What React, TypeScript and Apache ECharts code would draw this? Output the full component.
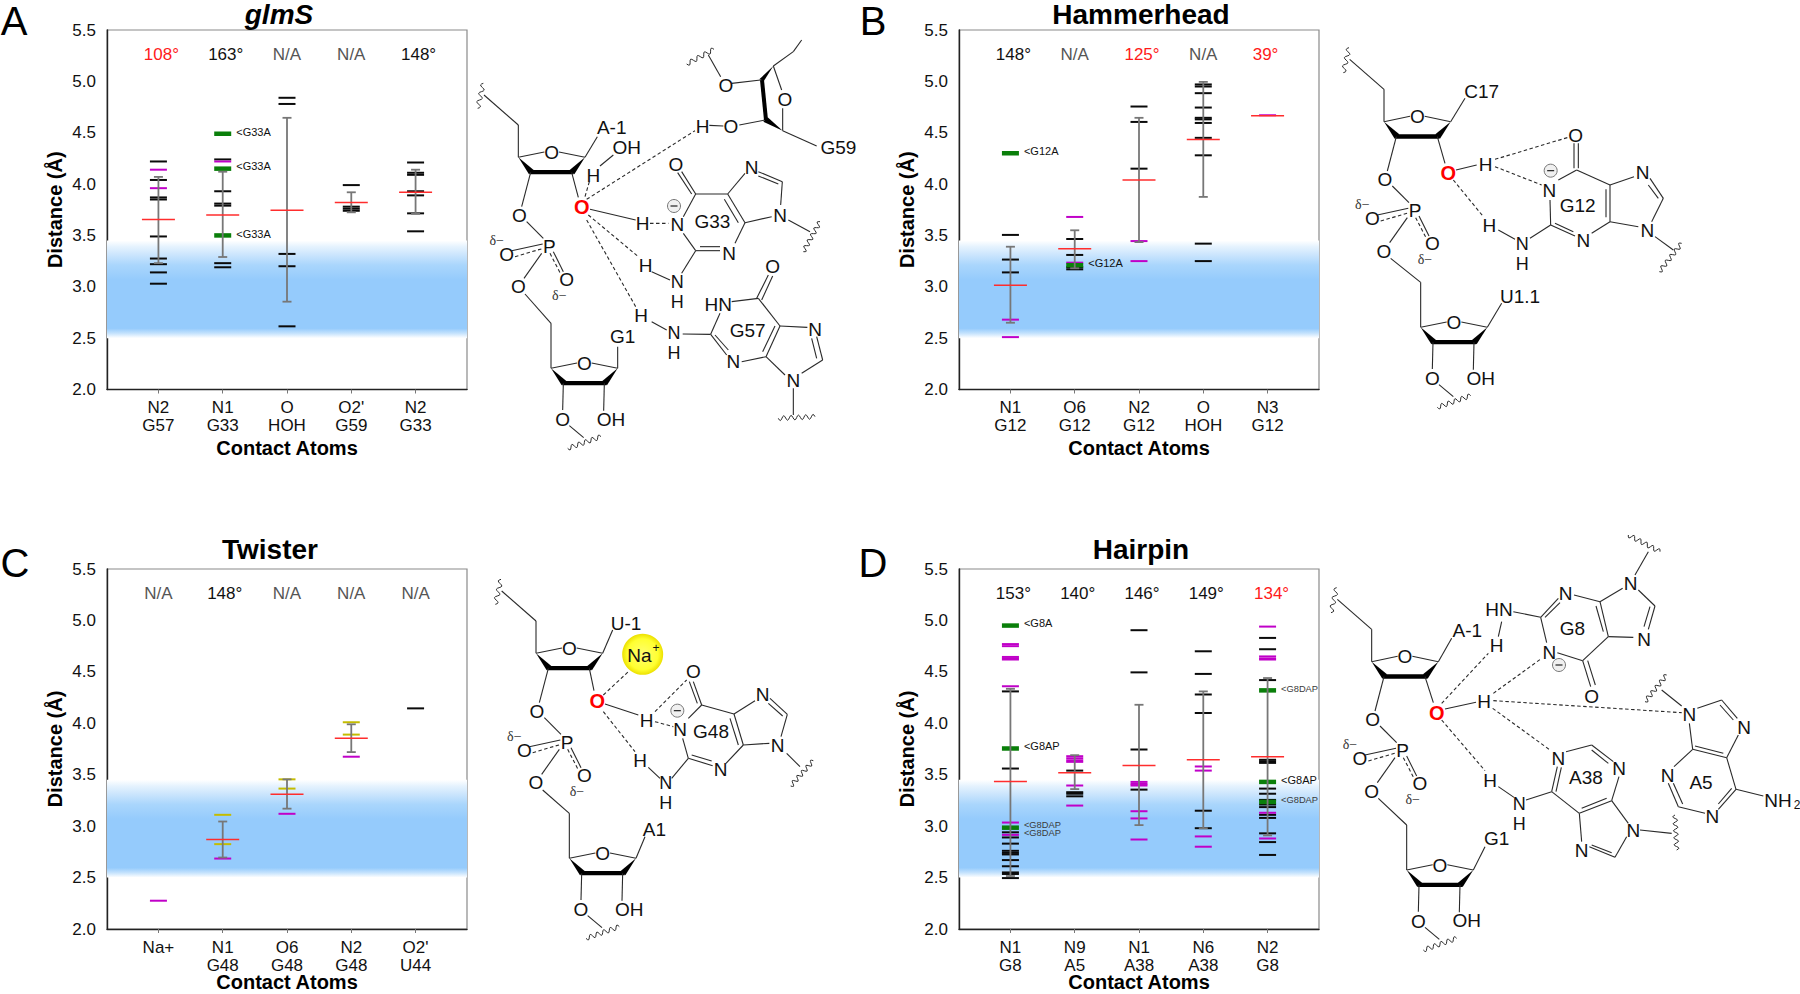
import React, { useEffect, useRef } from "react";
import * as echarts from "echarts";

// ---------- data ----------
const glmsCategories = ["N2\nG57", "N1\nG33", "O\nHOH", "O2'\nG59", "N2\nG33"];
const glmsAngles = ["108°", "163°", "N/A", "N/A", "148°"];
const glmsBlack = [
  [4.22, 4.04, 3.87, 3.85, 3.49, 3.275, 3.22, 3.14, 3.03],
  [4.24, 3.93, 3.81, 3.79, 3.23, 3.19],
  [4.84, 4.78, 3.32, 3.2, 2.615],
  [3.99, 3.78, 3.76, 3.74],
  [4.21, 4.11, 4.09, 3.93, 3.89, 3.715, 3.54],
];
const glmsMagenta = [[4.14, 3.96], [4.22], [], [], []];
const glmsGreen = [[], [4.49, 4.15, 3.5], [], [], []];
const glmsMeans = [3.655, 3.7, 3.745, 3.82, 3.92];
const glmsErrTop = [4.07, 4.12, 4.645, 3.92, 4.14];
const glmsErrBottom = [3.23, 3.29, 2.855, 3.725, 3.71];
const glmsNotes = [
  { cat: 2, y: 4.507, text: "<G33A" },
  { cat: 2, y: 4.176, text: "<G33A" },
  { cat: 2, y: 3.514, text: "<G33A" },
];

const hammerCategories = ["N1\nG12", "O6\nG12", "N2\nG12", "O\nHOH", "N3\nG12"];
const hammerAngles = ["148°", "N/A", "125°", "N/A", "39°"];
const hammerBlack = [
  [3.505, 3.265, 3.14],
  [3.465, 3.31, 3.19, 3.17],
  [4.755, 4.605, 4.15],
  [4.97, 4.95, 4.885, 4.745, 4.645, 4.63, 4.595, 4.45, 4.28, 3.42, 3.25],
  [],
];
const hammerMagenta = [[2.68, 2.51], [3.68, 3.235], [3.445, 3.25], [], [4.67]];
const hammerGreen = [[4.3], [3.21], [], [], []];
const hammerMeans = [3.015, 3.37, 4.04, 4.435, 4.665];
const hammerErrTop = [3.39, 3.55, 4.645, 4.995, null];
const hammerErrBottom = [2.65, 3.18, 3.435, 3.875, null];
const hammerNotes = [
  { cat: 1, y: 4.32, text: "<G12A" },
  { cat: 2, y: 3.23, text: "<G12A" },
];

const twisterCategories = ["Na+", "N1\nG48", "O6\nG48", "N2\nG48", "O2'\nU44"];
const twisterAngles = ["N/A", "148°", "N/A", "N/A", "N/A"];
const twisterBlack = [[], [], [], [], [4.145]];
const twisterMagenta = [[2.275], [2.685], [3.12], [3.675], []];
const twisterOlive = [[], [3.11, 2.825], [3.455, 3.365], [4.01, 3.89], []];
const twisterMeans = [null, 2.87, 3.31, 3.855, null];
const twisterErrTop = [null, 3.045, 3.455, 3.99, null];
const twisterErrBottom = [null, 2.695, 3.17, 3.72, null];

const hairpinCategories = ["N1\nG8", "N9\nA5", "N1\nA38", "N6\nA38", "N2\nG8"];
const hairpinAngles = ["153°", "140°", "146°", "149°", "134°"];
const hairpinBlack = [
  [4.31, 3.56, 2.94, 2.89, 2.83, 2.76, 2.74, 2.725, 2.67, 2.61, 2.55, 2.535, 2.495],
  [3.54, 3.33, 3.315, 3.29],
  [4.905, 4.495, 3.745, 3.355],
  [4.7, 4.48, 4.28, 4.1, 3.15, 2.98],
  [4.83, 4.72, 4.42, 3.645, 3.63, 3.615, 3.365, 3.315, 3.255, 3.21, 3.185, 3.11, 3.08, 2.93, 2.845, 2.72],
];
const hairpinMagenta = [
  [4.77, 4.75, 4.645, 4.63, 4.62, 4.36, 3.035, 2.915],
  [3.68, 3.66, 3.64, 3.625, 3.395, 3.2],
  [3.43, 3.41, 3.395, 3.145, 3.075, 2.87],
  [3.58, 3.54, 2.9, 2.8],
  [4.94, 4.65, 4.63, 4.62, 3.13, 2.88],
];
const hairpinGreen = [[4.95, 3.755, 2.985], [], [], [], [4.32, 3.43, 3.235]];
const hairpinMeans = [3.435, 3.52, 3.59, 3.645, 3.675];
const hairpinErrTop = [4.335, 3.69, 4.18, 4.31, 4.44];
const hairpinErrBottom = [2.515, 3.36, 3.01, 2.98, 2.91];
const hairpinNotes = [
  { cat: 1, y: 4.975, text: "<G8A" },
  { cat: 1, y: 3.78, text: "<G8AP" },
  { cat: 1, y: 3.01, text: "<G8DAP" },
  { cat: 1, y: 2.93, text: "<G8DAP" },
  { cat: 5, y: 4.33, text: "<G8DAP" },
  { cat: 5, y: 3.45, text: "<G8AP" },
  { cat: 5, y: 3.254, text: "<G8DAP" },
];

const yTicks = { min: 2, max: 5.5, interval: 0.5 };
const bandTop = 3.45;
const bandBottom = 2.5;
const angleLevel = 5.266;

// ---------- layout / style ----------
const FONT = '"Liberation Sans", Arial, sans-serif';
const SERIF = '"Liberation Serif", "DejaVu Serif", serif';
const XMIN = 0.2;
const XMAX = 5.8;
const CATS = [1, 2, 3, 4, 5];
const BLACK = "#0a0a0a";
const MAGENTA = "#C000C8";
const GREEN = "#0A7F0A";
const OLIVE = "#C4BC00";
const RED = "#FF2D2D";
const ERR = "#777777";
const INK = "#2a2a2a";

const flatten = (rows: number[][]) =>
  rows.flatMap((vals, c) => vals.map((v) => [c + 1, v]));

type Panel = {
  left: number; top: number; width: number; height: number; nameGap: number;
  categories: string[]; angles: string[]; angleColors: string[]; angleOffsets: number[];
  black: number[][]; magenta: number[][]; green: number[][]; olive: number[][];
  means: (number | null)[]; errTop: (number | null)[]; errBottom: (number | null)[];
  notes: { cat: number; y: number; text: string }[];
};

const BK = "#111111";
const NA = "#555555";
const panels: Panel[] = [
  {
    left: 107, top: 30, width: 360, height: 359.5, nameGap: 48,
    categories: glmsCategories, angles: glmsAngles,
    angleColors: [ "#ff1a1a", BK, NA, NA, BK ], angleOffsets: [3, 3, 0, 0, 3],
    black: glmsBlack, magenta: glmsMagenta, green: glmsGreen, olive: [],
    means: glmsMeans, errTop: glmsErrTop, errBottom: glmsErrBottom, notes: glmsNotes,
  },
  {
    left: 959, top: 30, width: 360, height: 359.5, nameGap: 48,
    categories: hammerCategories, angles: hammerAngles,
    angleColors: [BK, NA, "#ff1a1a", NA, "#ff1a1a"], angleOffsets: [3, 0, 3, 0, -2],
    black: hammerBlack, magenta: hammerMagenta, green: hammerGreen, olive: [],
    means: hammerMeans, errTop: hammerErrTop, errBottom: hammerErrBottom, notes: hammerNotes,
  },
  {
    left: 107, top: 569, width: 360, height: 360, nameGap: 43,
    categories: twisterCategories, angles: twisterAngles,
    angleColors: [NA, BK, NA, NA, NA], angleOffsets: [0, 2, 0, 0, 0],
    black: twisterBlack, magenta: twisterMagenta, green: [], olive: twisterOlive,
    means: twisterMeans, errTop: twisterErrTop, errBottom: twisterErrBottom, notes: [],
  },
  {
    left: 959, top: 569, width: 360, height: 360, nameGap: 43,
    categories: hairpinCategories, angles: hairpinAngles,
    angleColors: [BK, BK, BK, BK, "#ff1a1a"], angleOffsets: [3, 3, 3, 3, 4],
    black: hairpinBlack, magenta: hairpinMagenta, green: hairpinGreen, olive: [],
    means: hairpinMeans, errTop: hairpinErrTop, errBottom: hairpinErrBottom, notes: hairpinNotes,
  },
];

function dashSeries(i: number, rows: number[][], color: string, w: number, h: number, z: number) {
  return {
    type: "scatter", xAxisIndex: i, yAxisIndex: i, symbol: "rect", symbolSize: [w, h],
    itemStyle: { color, opacity: 1 }, data: flatten(rows), z, silent: true,
  };
}

function panelSeries(p: Panel, i: number): any[] {
  const band = new echarts.graphic.LinearGradient(0, 0, 0, 1, [
    { offset: 0, color: "#ffffff" },
    { offset: 0.06, color: "#e6f3fe" },
    { offset: 0.14, color: "#cde6fd" },
    { offset: 0.25, color: "#aad6fc" },
    { offset: 0.4, color: "#95cbfc" },
    { offset: 0.9, color: "#95cbfc" },
    { offset: 0.95, color: "#c4e2fd" },
    { offset: 1, color: "#ffffff" },
  ]);
  const errData = CATS.map((c, k) => [c, p.errTop[k], p.errBottom[k]]).filter((d) => d[1] != null);
  const meanData = CATS.map((c, k) => [c, p.means[k]]).filter((d) => d[1] != null);
  return [
    {
      type: "custom", xAxisIndex: i, yAxisIndex: i, silent: true, z: 1,
      data: [[XMIN, bandTop, XMAX, bandBottom]],
      encode: { x: [0, 2], y: [1, 3] },
      renderItem: (_: any, api: any) => {
        const a = api.coord([api.value(0), api.value(1)]);
        const b = api.coord([api.value(2), api.value(3)]);
        return { type: "rect", shape: { x: a[0], y: a[1], width: b[0] - a[0], height: b[1] - a[1] }, style: { fill: band } };
      },
    },
    dashSeries(i, p.black, BLACK, 17, 2, 3),
    dashSeries(i, p.magenta, MAGENTA, 17, 2, 4),
    dashSeries(i, p.olive, OLIVE, 17, 2, 4),
    dashSeries(i, p.green, GREEN, 17, 4.5, 4),
    {
      type: "custom", xAxisIndex: i, yAxisIndex: i, silent: true, z: 5,
      data: errData,
      encode: { x: 0, y: [1, 2] },
      renderItem: (_: any, api: any) => {
        const t = api.coord([api.value(0), api.value(1)]);
        const b = api.coord([api.value(0), api.value(2)]);
        const st = { stroke: ERR, lineWidth: 1.8, fill: "none" };
        return {
          type: "group",
          children: [
            { type: "line", shape: { x1: t[0], y1: t[1], x2: b[0], y2: b[1] }, style: st },
            { type: "line", shape: { x1: t[0] - 4.5, y1: t[1], x2: t[0] + 4.5, y2: t[1] }, style: st },
            { type: "line", shape: { x1: b[0] - 4.5, y1: b[1], x2: b[0] + 4.5, y2: b[1] }, style: st },
          ],
        };
      },
    },
    {
      type: "scatter", xAxisIndex: i, yAxisIndex: i, symbol: "rect", symbolSize: [33, 1.5],
      itemStyle: { color: RED, opacity: 1 }, data: meanData, z: 6, silent: true,
    },
    {
      type: "custom", xAxisIndex: i, yAxisIndex: i, silent: true, z: 7,
      data: CATS.map((c) => [c, angleLevel]),
      encode: { x: 0, y: 1 },
      renderItem: (params: any, api: any) => {
        const k = params.dataIndex;
        const c = api.coord([api.value(0), api.value(1)]);
        return {
          type: "text", x: c[0] + p.angleOffsets[k], y: c[1],
          style: { text: p.angles[k], fill: p.angleColors[k], font: `17px ${FONT}`, textAlign: "center", textVerticalAlign: "middle", align: "center", verticalAlign: "middle" },
        };
      },
    },
    {
      type: "custom", xAxisIndex: i, yAxisIndex: i, silent: true, z: 7,
      data: p.notes.map((n) => [n.cat, n.y]),
      encode: { x: 0, y: 1 },
      renderItem: (params: any, api: any) => {
        const n = p.notes[params.dataIndex];
        const c = api.coord([api.value(0), api.value(1)]);
        const dap = n.text.includes("DAP");
        return {
          type: "text", x: c[0] + 13.5, y: c[1],
          style: { text: n.text, fill: dap ? "#3a3a3a" : "#111", font: `${dap ? 9.3 : 11}px ${FONT}`, textAlign: "left", textVerticalAlign: "middle", align: "left", verticalAlign: "middle" },
        };
      },
    },
  ];
}

// ---------- chemistry drawings (decoration; coordinates are drawing positions) ----------
type L = number[];
function draw(ox: number, oy: number, d: { lines?: L[]; dashed?: L[]; texts?: any[]; polys?: number[][][]; waves?: L[]; thick?: L[]; minus?: L[] }) {
  const px = (x: number) => ox + x / 3;
  const py = (y: number) => oy + y / 3;
  const out: any[] = [];
  (d.polys || []).forEach((pts) => out.push({ type: "polygon", shape: { points: pts.map((q) => [px(q[0]), py(q[1])]) }, style: { fill: "#000" }, silent: true }));
  (d.lines || []).forEach((l) => out.push({ type: "line", shape: { x1: px(l[0]), y1: py(l[1]), x2: px(l[2]), y2: py(l[3]) }, style: { stroke: INK, lineWidth: 1.1, fill: "none" }, silent: true }));
  (d.thick || []).forEach((l) => out.push({ type: "line", shape: { x1: px(l[0]), y1: py(l[1]), x2: px(l[2]), y2: py(l[3]) }, style: { stroke: "#000", lineWidth: 4, fill: "none" }, silent: true }));
  (d.dashed || []).forEach((l) => out.push({ type: "line", shape: { x1: px(l[0]), y1: py(l[1]), x2: px(l[2]), y2: py(l[3]) }, style: { stroke: INK, lineWidth: 1.1, lineDash: [3.5, 2.5], fill: "none" }, silent: true }));
  (d.waves || []).forEach((w) => {
    const [x1, y1, x2, y2] = w;
    const n = Math.max(2, Math.round(Math.hypot(x2 - x1, y2 - y1) / 22));
    const len = Math.hypot(x2 - x1, y2 - y1);
    const nx = -(y2 - y1) / len;
    const ny = (x2 - x1) / len;
    const pts: number[][] = [];
    for (let k = 0; k <= n * 8; k++) {
      const t = k / (n * 8);
      const a = Math.sin(t * n * Math.PI * 2) * 7;
      pts.push([px(x1 + (x2 - x1) * t + nx * a), py(y1 + (y2 - y1) * t + ny * a)]);
    }
    out.push({ type: "polyline", shape: { points: pts }, style: { stroke: INK, lineWidth: 1, fill: "none" }, silent: true });
  });
  (d.minus || []).forEach((m) => {
    out.push({ type: "circle", shape: { cx: px(m[0]), cy: py(m[1]), r: 6.5 }, style: { fill: "#f0f0f0", stroke: "#777", lineWidth: 1 }, silent: true });
    out.push({ type: "line", shape: { x1: px(m[0]) - 3.5, y1: py(m[1]), x2: px(m[0]) + 3.5, y2: py(m[1]) }, style: { stroke: "#222", lineWidth: 1.2 }, silent: true });
  });
  (d.texts || []).forEach((t) => {
    const stacked = String(t[0]).includes("\n");
    const size = t[3] || (stacked ? 18 : 19);
    const family = String(t[0]).startsWith("δ") ? SERIF : FONT;
    const fontStr = t[5] ? `${t[5]} ${size}px ${family}` : `${size}px ${family}`;
    out.push({
      type: "text", x: px(t[1]), y: py(t[2]), silent: true, z: 10,
      style: { text: t[0], fill: t[4] || "#111", font: fontStr, lineHeight: stacked ? 20 : undefined, textAlign: "center", textVerticalAlign: "middle", align: "center", verticalAlign: "middle" },
    });
  });
  return out;
}

function backbone(ox: number, oy: number, cfg: { u: number[]; l: number[]; red: number[]; top: { t: string; p: number[]; e: number[] }; bottom: { t: string; p: number[]; e: number[] } }) {
  const [ux, uy] = cfg.u;
  const [lx, ly] = cfg.l;
  const [rx, ry] = cfg.red;
  const A = (a: number[]) => [a[0] + ux, a[1] + uy, a[2] + ux, a[3] + uy];
  const B = (a: number[]) => [a[0] + lx, a[1] + ly, a[2] + lx, a[3] + ly];
  const sugarPolys = (x: number, y: number) => [
    [[x, y], [x + 32, y + 51], [x + 46, y + 38]],
    [[x + 34, y + 38], [x + 166, y + 38], [x + 166, y + 51], [x + 34, y + 51]],
    [[x + 200, y], [x + 154, y + 38], [x + 168, y + 51]],
  ];
  return draw(ox, oy, {
    polys: [...sugarPolys(ux, uy), ...sugarPolys(lx, ly)],
    lines: [
      A([0, 0, 0, -97]), A([0, -97, -103, -187]),
      A([0, 0, 78, -16]), A([122, -16, 200, 0]),
      A([37, 45, 10, 148]),
      [ux + 160, uy + 45, rx - 10, ry - 30],
      A([25, 193, 75, 243]),
      A([-20, 280, 73, 260]), A([105, 283, 135, 343]), A([70, 288, 17, 363]),
      [ux + 20, uy + 410, lx, ly - 135], [lx, ly - 135, lx, ly],
      B([0, 0, 78, -16]), B([122, -16, 200, 0]),
      B([37, 45, 35, 125]), B([160, 45, 158, 127]),
      B([55, 172, 98, 208]),
      [ux + 200, uy, cfg.top.e[0], cfg.top.e[1]],
      [lx + 200, ly, cfg.bottom.e[0], cfg.bottom.e[1]],
    ],
    dashed: [A([-10, 298, 75, 273]), A([95, 288, 125, 346])],
    waves: [A([-122, -147, -105, -222]), B([50, 240, 150, 205])],
    texts: [
      ["O", ux + 100, uy - 15],
      ["O", ux + 3, uy + 173],
      ["P", ux + 93, uy + 266],
      ["O", ux - 35, uy + 290],
      ["O", ux + 145, uy + 366],
      ["O", ux, uy + 388],
      ["δ−", ux - 65, uy + 248, 14, "#333"],
      ["δ−", ux + 123, uy + 413, 14, "#333"],
      ["O", lx + 100, ly - 15],
      ["O", lx + 35, ly + 153],
      ["OH", lx + 180, ly + 152],
      [cfg.top.t, cfg.top.p[0], cfg.top.p[1]],
      [cfg.bottom.t, cfg.bottom.p[0], cfg.bottom.p[1]],
      ["O", rx, ry, 20, "#ff0000", "bold"],
    ],
  });
}

const drawings = (): any[] => {
  const out: any[] = [];
  // panel A
  out.push(...backbone(470, 40, {
    u: [145, 352], l: [243, 985], red: [335, 502],
    top: { t: "A-1", p: [425, 262], e: [382, 290] },
    bottom: { t: "G1", p: [458, 890], e: [443, 920] },
  }));
  out.push(...draw(470, 40, {
    polys: [[[910, 78], [868, 118], [882, 122]], [[938, 272], [880, 245], [893, 232]]],
    thick: [[876, 120, 888, 240]],
    waves: [[650, 72, 732, 28], [1000, 635, 1050, 545], [925, 1135, 1035, 1130]],
    lines: [
      [995, 0, 970, 35], [970, 35, 910, 78], [715, 45, 752, 110], [785, 130, 872, 120],
      [910, 78, 935, 150], [938, 205, 938, 272], [885, 240, 808, 255], [718, 256, 760, 258], [938, 272, 1040, 318],
      [390, 378, 430, 345],
      [360, 508, 497, 540],
      [677, 462, 640, 530], [677, 462, 773, 462], [773, 462, 825, 548], [763, 478, 805, 548], [825, 548, 795, 610],
      [750, 632, 677, 632], [750, 620, 690, 620], [677, 632, 640, 580], [677, 462, 635, 395], [665, 462, 623, 398],
      [773, 462, 825, 400], [865, 395, 937, 425], [865, 408, 925, 432], [937, 425, 932, 495], [905, 530, 825, 548],
      [955, 540, 1020, 575], [677, 632, 635, 700], [545, 695, 600, 720],
      [860, 775, 895, 705], [875, 780, 908, 708], [785, 785, 865, 775], [865, 775, 930, 858], [930, 858, 888, 950],
      [915, 858, 878, 935], [930, 858, 1012, 862], [1040, 890, 1058, 960], [1025, 895, 1040, 955], [1058, 960, 995, 1000],
      [945, 1005, 888, 950], [888, 950, 815, 965], [770, 945, 722, 883], [775, 930, 735, 885], [722, 883, 750, 820],
      [722, 883, 638, 882], [545, 845, 590, 870], [970, 1045, 970, 1125],
    ],
    dashed: [[358, 425, 345, 470], [350, 478, 675, 272], [540, 550, 595, 550], [355, 525, 505, 650], [350, 540, 497, 800]],
    minus: [[612, 498]],
    texts: [
      ["OH", 470, 323], ["H", 370, 405], ["G59", 1105, 323], ["O", 768, 135], ["O", 945, 178], ["H", 698, 258], ["O", 783, 260],
      ["O", 618, 373], ["N", 845, 383], ["N", 930, 527], ["H", 518, 550], ["N", 622, 553], ["G33", 727, 545], ["N", 777, 640],
      ["H", 527, 677], ["N\nH", 622, 757], ["O", 908, 680], ["HN", 745, 792], ["N", 1035, 867], ["G57", 833, 870],
      ["N", 790, 965], ["H", 513, 825], ["N\nH", 612, 908], ["N", 970, 1022],
    ],
  }));
  // panel B
  out.push(...backbone(1320, 30, {
    u: [192, 275], l: [302, 892], red: [385, 430],
    top: { t: "C17", p: [485, 183], e: [435, 205] },
    bottom: { t: "U1.1", p: [600, 800], e: [545, 820] },
  }));
  out.push(...draw(1320, 30, {
    lines: [
      [408, 420, 470, 405], [535, 600, 585, 628], [762, 340, 762, 415], [775, 340, 775, 415],
      [715, 450, 770, 420], [770, 420, 870, 465], [870, 465, 870, 575], [858, 478, 858, 562], [870, 575, 815, 610],
      [765, 618, 692, 585], [760, 605, 705, 580], [692, 585, 690, 510], [692, 585, 630, 625], [870, 465, 942, 440],
      [990, 445, 1030, 505], [985, 465, 1015, 505], [1030, 505, 995, 575], [955, 590, 870, 575], [1005, 620, 1060, 660],
    ],
    dashed: [[525, 388, 745, 322], [525, 410, 665, 465], [400, 450, 490, 560]],
    waves: [[1018, 725, 1085, 640]],
    minus: [[692, 422]],
    texts: [
      ["H", 497, 403], ["H", 508, 587], ["N\nH", 607, 671], ["O", 767, 315], ["N", 688, 480], ["G12", 773, 527],
      ["N", 968, 428], ["N", 982, 600], ["N", 790, 632],
    ],
  }));
  // panel C
  out.push({
    type: "circle", shape: { cx: 480 + 488 / 3, cy: 570 + 253 / 3, r: 20.5 }, silent: true,
    style: { fill: new echarts.graphic.RadialGradient(0.5, 0.5, 0.5, [{ offset: 0, color: "#ffff70" }, { offset: 0.75, color: "#ffff30" }, { offset: 1, color: "#ece000" }]) },
  });
  out.push(...backbone(480, 570, {
    u: [168, 250], l: [268, 865], red: [352, 392],
    top: { t: "U-1", p: [438, 160], e: [398, 180] },
    bottom: { t: "A1", p: [523, 778], e: [495, 800] },
  }));
  out.push(...draw(480, 570, {
    lines: [
      [375, 402, 475, 435], [505, 592, 540, 625], [625, 445, 665, 405], [665, 405, 640, 335], [652, 400, 628, 335],
      [665, 405, 762, 432], [762, 432, 790, 525], [750, 445, 775, 525], [790, 525, 738, 580], [698, 587, 625, 565],
      [695, 573, 635, 555], [625, 565, 608, 505], [625, 565, 575, 625], [762, 432, 825, 392], [870, 385, 922, 433],
      [865, 400, 908, 438], [922, 433, 903, 500], [868, 520, 790, 525], [920, 550, 960, 590],
    ],
    dashed: [[370, 375, 445, 305], [525, 425, 620, 330], [525, 455, 580, 470], [370, 425, 465, 545]],
    waves: [[932, 648, 1000, 572]],
    minus: [[592, 422]],
    texts: [
      ["Na", 478, 255], ["+", 528, 235, 12], ["H", 500, 450], ["H", 480, 572], ["N\nH", 557, 668], ["O", 640, 305],
      ["N", 600, 478], ["G48", 693, 485], ["N", 848, 373], ["N", 893, 525], ["N", 722, 597],
    ],
  }));
  // panel D
  out.push(...backbone(1320, 530, {
    u: [155, 395], l: [260, 1020], red: [350, 548],
    top: { t: "A-1", p: [442, 300], e: [395, 325] },
    bottom: { t: "G1", p: [530, 925], e: [495, 950] },
  }));
  out.push(...draw(1320, 530, {
    lines: [
      [375, 537, 468, 517], [545, 275, 535, 320], [535, 770, 582, 802],
      [580, 245, 662, 262], [662, 262, 715, 205], [675, 262, 720, 218], [662, 262, 680, 338], [712, 368, 788, 392],
      [788, 392, 865, 320], [865, 320, 840, 215], [850, 305, 828, 228], [840, 215, 762, 195], [840, 215, 908, 175],
      [955, 180, 1005, 228], [1005, 228, 985, 298], [990, 230, 972, 290], [940, 322, 865, 320], [788, 392, 812, 470],
      [803, 392, 826, 465], [945, 135, 985, 65],
      [738, 665, 815, 645], [815, 645, 880, 695], [815, 660, 865, 700], [897, 740, 875, 812], [875, 812, 778, 850],
      [860, 805, 785, 835], [778, 850, 695, 785], [695, 785, 712, 710], [708, 785, 724, 712], [875, 812, 925, 880],
      [920, 920, 885, 982], [885, 982, 808, 950], [875, 968, 815, 945], [778, 850, 785, 935], [695, 785, 618, 810],
      [960, 900, 1055, 910],
      [1132, 535, 1205, 510], [1205, 510, 1252, 565], [1200, 525, 1240, 570], [1255, 615, 1220, 683], [1220, 683, 1118, 658],
      [1210, 670, 1125, 648], [1118, 658, 1108, 580], [1118, 658, 1062, 710], [1045, 760, 1075, 830], [1060, 760, 1088, 822],
      [1075, 830, 1155, 850], [1195, 838, 1248, 778], [1195, 822, 1235, 775], [1220, 683, 1248, 778], [1248, 778, 1330, 798],
      [1085, 528, 1025, 480],
    ],
    dashed: [[365, 520, 505, 370], [520, 490, 665, 385], [520, 512, 1085, 548], [518, 535, 690, 660], [365, 570, 495, 722]],
    waves: [[925, 15, 1020, 65], [1065, 855, 1070, 960], [975, 515, 1040, 435]],
    minus: [[717, 405]],
    texts: [
      ["H", 492, 515], ["H", 530, 347], ["HN", 537, 238], ["H", 510, 752], ["N\nH", 598, 851],
      ["N", 688, 367], ["G8", 757, 295], ["N", 737, 190], ["N", 932, 160], ["N", 972, 328], ["O", 815, 498],
      ["N", 715, 685], ["A38", 798, 742], ["N", 897, 715], ["N", 940, 900], ["N", 785, 960],
      ["N", 1108, 552], ["N", 1272, 592], ["N", 1043, 735], ["N", 1177, 858], ["A5", 1143, 757],
      ["NH", 1374, 810], ["2", 1431, 826, 12],
    ],
  }));
  return out;
};

const headline = (text: string, x: number, y: number, font: string, va = "middle") => ({
  type: "text", x, y, silent: true,
  style: { text, fill: "#000", font, textAlign: "center", textVerticalAlign: va, align: "center", verticalAlign: va },
});

const headlines = [
  headline("glmS", 279, 0, `italic bold 28px ${FONT}`, "top"),
  headline("Hammerhead", 1141, 0, `bold 28px ${FONT}`, "top"),
  headline("Twister", 270, 549, `bold 28px ${FONT}`),
  headline("Hairpin", 1141, 549, `bold 28px ${FONT}`),
  headline("A", 14, 21, `40px ${FONT}`),
  headline("B", 873, 21, `40px ${FONT}`),
  headline("C", 15, 563, `40px ${FONT}`),
  headline("D", 873, 563, `40px ${FONT}`),
];

export default function App() {
  const ref = useRef<HTMLDivElement>(null);
  useEffect(() => {
    const chart = echarts.init(ref.current!, undefined, { renderer: "svg" });
    chart.setOption({
      animation: false,
      backgroundColor: "#ffffff",
      textStyle: { fontFamily: FONT },
      grid: panels.map((p) => ({
        left: p.left, top: p.top, width: p.width, height: p.height, outerBoundsMode: "none",
        show: true, borderColor: "#8a8a8a", borderWidth: 1.2, backgroundColor: "#fff", containLabel: false,
      })),
      xAxis: panels.map((p, i) => ({
        type: "value", gridIndex: i, min: XMIN, max: XMAX, splitLine: { show: false },
        name: "Contact Atoms", nameLocation: "middle", nameGap: p.nameGap, nameMoveOverlap: false,
        nameTextStyle: { fontFamily: FONT, fontSize: 20, fontWeight: "bold", color: "#000", verticalAlign: "top" },
        axisLine: { show: true, onZero: false, lineStyle: { color: "#222", width: 1.4 } },
        axisTick: { show: true, length: 4, customValues: CATS, lineStyle: { color: "#777", width: 1 } },
        axisLabel: {
          customValues: CATS, margin: 9, fontFamily: FONT, fontSize: 17, lineHeight: 18, color: "#111",
          formatter: (v: number) => p.categories[Math.round(v) - 1] ?? "",
        },
      })),
      yAxis: panels.map((_, i) => ({
        type: "value", gridIndex: i, min: yTicks.min, max: yTicks.max, interval: yTicks.interval, splitLine: { show: false },
        name: "Distance (Å)", nameLocation: "middle", nameGap: 42, nameRotate: 90, nameMoveOverlap: false,
        nameTextStyle: { fontFamily: FONT, fontSize: 20, fontWeight: "bold", color: "#000" },
        axisLine: { show: true, onZero: false, lineStyle: { color: "#222", width: 1.4 } },
        axisTick: { show: false },
        axisLabel: { margin: 11, fontFamily: FONT, fontSize: 17, color: "#111", formatter: (v: number) => v.toFixed(1) },
      })),
      series: panels.flatMap(panelSeries),
      graphic: { elements: [...headlines, ...drawings()] },
    });
    return () => chart.dispose();
  }, []);
  return <div ref={ref} style={{ position: "fixed", left: 0, top: 0, width: 1800, height: 994 }} />;
}
